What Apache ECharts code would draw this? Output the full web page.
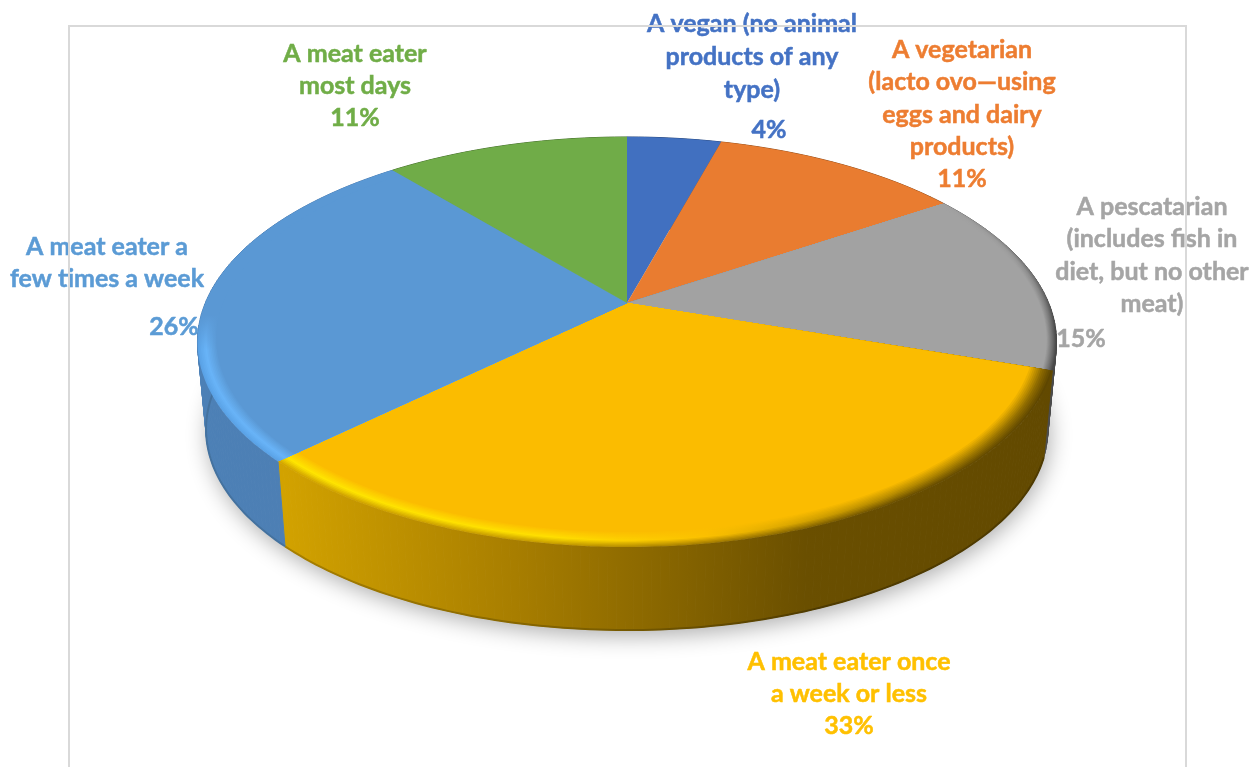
<!DOCTYPE html>
<html><head><meta charset="utf-8">
<style>html,body{margin:0;padding:0;background:#fff;overflow:hidden}#c{width:1259px;height:767px}</style>
<script src="https://cdn.jsdelivr.net/npm/echarts@6/dist/echarts.min.js"></script>
</head><body><div id="c"></div>
<script>
// ---- data ----
const categories = [
  'A vegan (no animal\nproducts of any\ntype)',
  'A vegetarian\n(lacto ovo\u2014using\neggs and dairy\nproducts)',
  'A pescatarian\n(includes fish in\ndiet, but no other\nmeat)',
  'A meat eater once\na week or less',
  'A meat eater a\nfew times a week',
  'A meat eater\nmost days'
];
const values = [4.25, 11.35, 14.6, 32.55, 26.25, 11.0];

// ---- styles ----
const topColors  = ['#4170c0', '#e97c30', '#a2a2a2', '#fbbc00', '#5a98d4', '#70ac48'];
const textColors = ['#4472c4', '#ed7d31', '#a5a5a5', '#ffc000', '#5b9bd5', '#70ad47'];
const sideStops = [
  [[0,'#2a4c85'],[1,'#2a4c85']],
  [[0,'#9c5420'],[1,'#9c5420']],
  [[0,'#6a6a6a'],[.6,'#555555'],[1,'#444444']],
  [[0,'#d2a200'],[.3,'#a87e00'],[.68,'#6a4f00'],[1,'#624900']],
  [[0,'#4c80b6'],[1,'#4d7fb4']],
  [[0,'#4a7430'],[1,'#4a7430']]
];
const sideBox = [null,null,[1000,1060],[285,1050],[195,290],null];
const lowEdge = {3:[[0,'#a88000'],[.4,'#7c5e00'],[.7,'#4e3a00'],[1,'#4e3a00']], 4:[[0,'#44729f'],[1,'#44729f']]};
// bevel ramps: [axis, from, to, stop positions, edge colours, highlight colours, width]
const bevel = {
  2: ['y', 204, 372, [0,.3,.75,1], ['#a2a2a2','#808080','#484848','#484848'], ['#a2a2a2','#9a9a9a','#707070','#707070'], 0.022],
  3: ['x', 285, 1050, [0,.35,.55,.8,1], ['#d4a600','#c89e00','#a88000','#6e5200','#5e4600'], ['#ffe600','#ffdf00','#fbc000','#b08600','#8a6800'], 0.05],
  4: ['y', 170, 460, [0,.5,.62,1], ['#5a98d4','#5a98d4','#5aa2e6','#5aa2e6'], ['#5a98d4','#5a98d4','#68b4f8','#68b4f8'], 0.042]
};
// ---- layout ----
const pie = {cx:627, cy:303, a:421.7, b:197.6, k:-0.19, depth:88, lowScale:0.98};
const nameAnchors = [[752,24,33],[962,50,32.3],[1152,207,32.3],[849,662,32],[107,247,32],[355,54,32]];
const pctAnchors  = [[769,130],[962,179],[1081,339],[849,726],[174,327],[355,118]];
const font = 'bold 25px Lato';

const total = values.reduce((s,v)=>s+v,0);
const starts = []; values.reduce((s,v,i)=>(starts[i]=s, s+v/total),0);
function P(frac,r,low){
  const t=2*Math.PI*frac, x=r*Math.sin(t), y=-r*Math.cos(t), d=1+pie.k*y;
  const s=low?pie.lowScale:1;
  return [pie.cx+s*pie.a*x/d, pie.cy+(low?pie.depth:0)+s*pie.b*y/d];
}
function arc(a,b,r,low){
  const n=Math.max(6,Math.ceil((b-a)*360)), pts=[];
  for(let i=0;i<=n;i++) pts.push(P(a+(b-a)*i/n,r,low));
  return pts;
}
function hex(c){return [1,3,5].map(i=>parseInt(c.substr(i,2),16));}
function mix(c1,c2,t){const A=hex(c1),B=hex(c2);return '#'+A.map((v,i)=>Math.round(v+(B[i]-v)*t).toString(16).padStart(2,'0')).join('');}
function grad(axis,from,to,stops){
  return {type:'linear',global:true,x:axis==='x'?from:0,y:axis==='y'?from:0,x2:axis==='x'?to:0,y2:axis==='y'?to:0,
    colorStops:stops.map(s=>({offset:s[0],color:s[1]}))};
}
const base={animation:false,type:'custom',coordinateSystem:'none',silent:true,data:values.map((v,i)=>[v,i])};

function renderShadow(params,api){
  if(params.dataIndex!==0) return {type:'group',children:[]};
  return {type:'polygon',shape:{points:arc(0,1,1,true)},
    style:{fill:'#e8e8e8',shadowBlur:22,shadowColor:'rgba(0,0,0,0.32)',shadowOffsetY:6,shadowOffsetX:2}};
}
function renderSide(params,api){
  const i=params.dataIndex, a=starts[i], b=a+api.value(0)/total;
  const box=sideBox[i]||[pie.cx-430,pie.cx+430];
  const fill=grad('x',box[0],box[1],sideStops[i]);
  const up=arc(a,b,1,false), low=arc(a,b,1,true), kids=[];
  for(let j=0;j<up.length-1;j++){
    kids.push({type:'polygon',shape:{points:[up[j],up[j+1],low[j+1],low[j]]},style:{fill:fill,stroke:fill,lineWidth:1}});
  }
  if(lowEdge[i]) kids.push({type:'polyline',shape:{points:low},style:{fill:null,stroke:grad('x',box[0],box[1],lowEdge[i]),lineWidth:2}});
  return {type:'group',children:kids};
}
function renderTop(params,api){
  const i=params.dataIndex, a=starts[i], b=a+api.value(0)/total;
  const center=[pie.cx,pie.cy], kids=[];
  const bv=bevel[i], w=bv?bv[6]:0;
  if(bv){
    const N=12;
    for(let j=0;j<N;j++){
      const t=j/N, r=1-w*t;
      const stops=bv[3].map((p,q)=>{
        const e=bv[4][q],h=bv[5][q];
        return [p,t<.4?mix(e,h,t/.4):mix(h,topColors[i],(t-.4)/.6)];
      });
      kids.push({type:'polygon',shape:{points:[center].concat(arc(a,b,r,false))},
        style:{fill:grad(bv[0],bv[1],bv[2],stops)}});
    }
  }
  kids.push({type:'polygon',shape:{points:[center].concat(arc(a,b,1-w,false))},style:{fill:topColors[i]}});
  return {type:'group',children:kids};
}
function renderLabel(params,api){
  const i=params.dataIndex, n=nameAnchors[i], p=pctAnchors[i];
  const ts={align:'center',verticalAlign:'middle',font:font,fill:textColors[i],stroke:textColors[i],lineWidth:0.5};
  const kids=categories[i].split('\n').map((line,j)=>({type:'text',
    style:Object.assign({text:line,x:n[0],y:n[1]+j*n[2]},ts)}));
  kids.push({type:'text',style:Object.assign({text:Math.round(api.value(0)/total*100)+'%',x:p[0],y:p[1]},ts)});
  return {type:'group',children:kids};
}
const chart=echarts.init(document.getElementById('c'),null,{renderer:'canvas'});
chart.setOption({
  animation:false,backgroundColor:'#fff',
  series:[
    Object.assign({},base,{z:1,renderItem:renderShadow}),
    Object.assign({},base,{z:2,renderItem:renderSide}),
    Object.assign({},base,{z:3,renderItem:renderTop}),
    Object.assign({},base,{z:4,renderItem:renderLabel})
  ],
  graphic:[{type:'rect',z:100,silent:true,shape:{x:69,y:26,width:1117,height:800},
    style:{fill:null,stroke:'#d9d9d9',lineWidth:2}}]
});
</script></body></html>
